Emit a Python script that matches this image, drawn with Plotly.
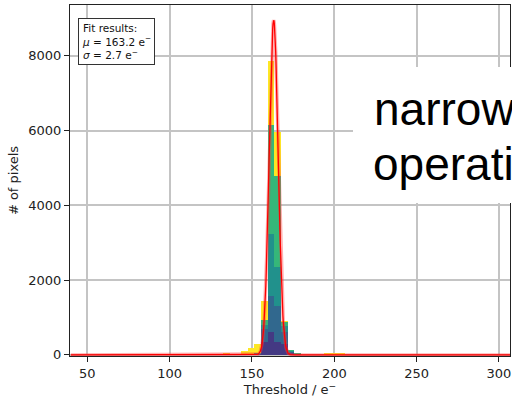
import numpy as np
import plotly.graph_objects as go

# ---------------- data ----------------
bin_width = 4.05
bin_centers = [145.4, 149.4, 153.5, 157.5, 161.6, 165.6, 169.7, 173.8, 177.8]
# cumulative (stacked) tops of each population
yellow = [100, 180, 300, 1450, 7850, 5950, 900, 130, 40]
green = [0, 0, 40, 930, 6160, 4780, 880, 120, 30]
teal = [0, 0, 30, 790, 3230, 2340, 780, 100, 20]
blue = [0, 0, 20, 690, 1580, 1315, 600, 80, 10]
purple = [0, 0, 10, 350, 600, 340, 290, 50, 0]
small_centers = [134.5, 196.0, 200.1, 204.2]
small_yellow = [40, 35, 40, 30]

series_colors = ["#fde725", "#35b779", "#21918c", "#31688e", "#443983"]

fit_mu = 163.2
fit_sigma = 2.7
fit_amp = 8950
fit_xmin, fit_xmax = 40, 307

x_ticks = [50, 100, 150, 200, 250, 300]
y_ticks = [0, 2000, 4000, 6000, 8000]

# ---------------- figure ----------------
fig = go.Figure()

fig.add_trace(go.Bar(x=small_centers, y=small_yellow, width=bin_width,
                     marker=dict(color=series_colors[0], line=dict(width=0)),
                     showlegend=False))
for vals, col in zip([yellow, green, teal, blue, purple], series_colors):
    fig.add_trace(go.Bar(x=bin_centers, y=vals, width=bin_width,
                         marker=dict(color=col, line=dict(width=0)),
                         showlegend=False))

fx = np.arange(fit_xmin, fit_xmax + 0.01, 0.2)
fy = fit_amp * np.exp(-0.5 * ((fx - fit_mu) / fit_sigma) ** 2)
fig.add_trace(go.Scatter(x=fx, y=fy, mode="lines",
                         line=dict(color="rgba(255,60,60,0.4)", width=3.5),
                         showlegend=False, hoverinfo="skip"))
fig.add_trace(go.Scatter(x=fx, y=fy, mode="lines",
                         line=dict(color="#ff0000", width=1.3),
                         showlegend=False, hoverinfo="skip"))

axis_font = dict(family="DejaVu Sans", size=13, color="#222")

fig.update_layout(
    width=512, height=397,
    margin=dict(l=70, r=2, t=5, b=41),
    paper_bgcolor="white", plot_bgcolor="white",
    barmode="overlay", bargap=0,
    font=axis_font,
    xaxis=dict(range=[39.5, 306.7], tickvals=x_ticks, ticks="outside", ticklen=5,
               tickwidth=1, tickcolor="#222", showgrid=True, gridcolor="#c4c4c4",
               gridwidth=1.5, showline=True, linecolor="#222", linewidth=1.3,
               mirror=True, zeroline=False, tickfont=axis_font,
               title=dict(text="Threshold / e<sup>−</sup>", font=axis_font, standoff=4)),
    yaxis=dict(range=[-30, 9360], tickvals=y_ticks, ticks="outside", ticklen=5,
               tickwidth=1, tickcolor="#222", showgrid=True, gridcolor="#c4c4c4",
               gridwidth=1.5, showline=True, linecolor="#222", linewidth=1.3,
               mirror=True, zeroline=False, tickfont=axis_font,
               title=dict(text="# of pixels", font=axis_font, standoff=6)),
)

# fit results box
fig.add_annotation(xref="paper", yref="paper", x=(78 - 70) / 440, y=(356 - 18) / 351,
                   xanchor="left", yanchor="top", align="left", showarrow=False,
                   text="Fit results:<br><i>μ</i> = 163.2 e<sup>−</sup><br><i>σ</i> = 2.7 e<sup>−</sup>",
                   font=dict(family="DejaVu Sans", size=10.5, color="#111"),
                   bgcolor="white", bordercolor="#333", borderwidth=1, borderpad=3)

# white overlay box from slide with text
fig.add_shape(type="rect", xref="paper", yref="paper",
              x0=(353 - 70) / 440, x1=(520 - 70) / 440,
              y0=(356 - 203) / 351, y1=(356 - 67) / 351,
              fillcolor="white", line=dict(width=0), layer="above")
big_font = dict(family="Liberation Sans, Arial", size=46, color="black")
fig.add_annotation(xref="paper", yref="paper", x=(372 - 70) / 440, y=(356 - 109) / 351,
                   xanchor="left", yanchor="middle", showarrow=False,
                   text="narrow", font=big_font)
fig.add_annotation(xref="paper", yref="paper", x=(371 - 70) / 440, y=(356 - 164) / 351,
                   xanchor="left", yanchor="middle", showarrow=False,
                   text="operati", font=big_font)

fig.write_html("out.html")
